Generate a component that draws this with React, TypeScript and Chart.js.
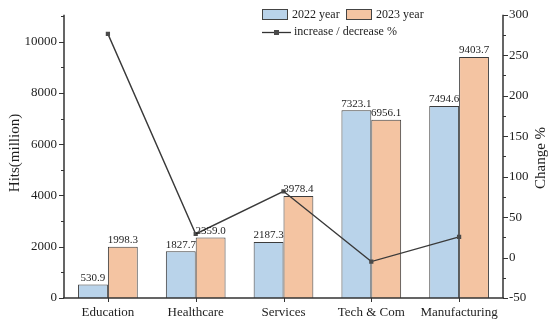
import React, { useEffect, useRef } from "react";
import { Chart, registerables } from "chart.js";

Chart.register(...registerables);

const categories = ["Education", "Healthcare", "Services", "Tech & Com", "Manufacturing"];
const hits2022 = [530.9, 1827.7, 2187.3, 7323.1, 7494.6];
const hits2023 = [1998.3, 2359.0, 3978.4, 6956.1, 9403.7];
const changePct = [276.4, 29.1, 81.9, -5.0, 25.5];
const leftTicks = [0, 2000, 4000, 6000, 8000, 10000];
const rightTicks = [-50, 0, 50, 100, 150, 200, 250, 300];

const FONT = '"Liberation Serif", "Times New Roman", serif';
const BLUE = "#b9d3ea";
const ORANGE = "#f4c4a2";
const EDGE = "#3c3c3c";
const TEXT = "#1e1e1e";

const decorPlugin = {
  id: "decor",
  afterDatasetsDraw(chart: any) {
    const ctx = chart.ctx;
    ctx.save();
    ctx.font = `11px ${FONT}`;
    ctx.fillStyle = TEXT;
    ctx.textAlign = "center";
    ctx.textBaseline = "bottom";
    [0, 1].forEach((di) => {
      const meta = chart.getDatasetMeta(di);
      const data = chart.data.datasets[di].data as number[];
      meta.data.forEach((el: any, i: number) => {
        ctx.fillText(data[i].toFixed(1), el.x, el.y - 1);
      });
    });
    ctx.restore();
  },
  afterDraw(chart: any) {
    const ctx = chart.ctx;
    const ca = chart.chartArea;
    const y = chart.scales.y;
    const y1 = chart.scales.y1;
    const x = chart.scales.x;
    ctx.save();
    ctx.strokeStyle = "#333";
    ctx.lineWidth = 1.5;
    ctx.beginPath();
    ctx.moveTo(ca.left, ca.top);
    ctx.lineTo(ca.left, ca.bottom);
    ctx.moveTo(ca.right, ca.top);
    ctx.lineTo(ca.right, ca.bottom);
    ctx.moveTo(ca.left - 1, ca.bottom);
    ctx.lineTo(ca.right + 1, ca.bottom);
    ctx.stroke();
    ctx.lineWidth = 1;
    ctx.beginPath();
    for (let v = 0; v <= y.max; v += 1000) {
      const py = Math.round(y.getPixelForValue(v)) + 0.5;
      const len = v % 2000 === 0 ? 5 : 3;
      ctx.moveTo(ca.left, py);
      ctx.lineTo(ca.left - len, py);
    }
    for (let v = -50; v <= 300; v += 25) {
      const py = Math.round(y1.getPixelForValue(v)) + 0.5;
      const len = v % 50 === 0 ? 5 : 3;
      ctx.moveTo(ca.right, py);
      ctx.lineTo(ca.right + len, py);
    }
    categories.forEach((_, i) => {
      const px = Math.round(x.getPixelForValue(i)) + 0.5;
      ctx.moveTo(px, ca.bottom);
      ctx.lineTo(px, ca.bottom + 4);
    });
    ctx.stroke();

    ctx.fillStyle = TEXT;
    ctx.font = `15px ${FONT}`;
    ctx.textAlign = "center";
    ctx.textBaseline = "middle";
    ctx.save();
    ctx.translate(15, 153);
    ctx.rotate(-Math.PI / 2);
    ctx.fillText("Hits(million)", 0, 0);
    ctx.restore();
    ctx.save();
    ctx.translate(541, 158);
    ctx.rotate(-Math.PI / 2);
    ctx.fillText("Change %", 0, 0);
    ctx.restore();

    ctx.font = `12px ${FONT}`;
    ctx.textAlign = "left";
    ctx.textBaseline = "middle";
    ctx.lineWidth = 1;
    ctx.strokeStyle = "#444";
    ctx.fillStyle = BLUE;
    ctx.fillRect(262.5, 9.5, 25, 10);
    ctx.strokeRect(262.5, 9.5, 25, 10);
    ctx.fillStyle = ORANGE;
    ctx.fillRect(346.5, 9.5, 25, 10);
    ctx.strokeRect(346.5, 9.5, 25, 10);
    ctx.fillStyle = TEXT;
    ctx.fillText("2022 year", 292, 15);
    ctx.fillText("2023 year", 376, 15);
    ctx.strokeStyle = "#333";
    ctx.lineWidth = 1.3;
    ctx.beginPath();
    ctx.moveTo(262, 32.5);
    ctx.lineTo(291, 32.5);
    ctx.stroke();
    ctx.fillStyle = "#4a4a4a";
    ctx.fillRect(274, 30, 5, 5);
    ctx.fillStyle = TEXT;
    ctx.fillText("increase / decrease %", 294, 32);
    ctx.restore();
  },
};

export default function App() {
  const ref = useRef<HTMLCanvasElement>(null);
  useEffect(() => {
    if (!ref.current) return;
    const chart = new Chart(ref.current, {
      type: "bar",
      data: {
        labels: categories,
        datasets: [
          {
            type: "bar",
            label: "2022 year",
            data: hits2022,
            backgroundColor: BLUE,
            borderColor: EDGE,
            borderWidth: 1,
            yAxisID: "y",
            order: 1,
            categoryPercentage: 0.68,
            barPercentage: 1,
          },
          {
            type: "bar",
            label: "2023 year",
            data: hits2023,
            backgroundColor: ORANGE,
            borderColor: EDGE,
            borderWidth: 1,
            yAxisID: "y",
            order: 1,
            categoryPercentage: 0.68,
            barPercentage: 1,
          },
          {
            type: "line",
            label: "increase / decrease %",
            data: changePct,
            borderColor: "#3a3a3a",
            borderWidth: 1.4,
            backgroundColor: "#4a4a4a",
            pointStyle: "rect",
            pointRadius: 3,
            pointBorderWidth: 0,
            pointBackgroundColor: "#4a4a4a",
            yAxisID: "y1",
            order: 0,
            tension: 0,
          } as any,
        ],
      },
      options: {
        responsive: false,
        animation: false,
        layout: { padding: { top: 6, left: 0, right: 0, bottom: 0 } },
        plugins: { legend: { display: false }, tooltip: { enabled: false } },
        scales: {
          x: {
            type: "category",
            offset: true,
            grid: { display: false, drawTicks: false },
            border: { display: false },
            ticks: { font: { family: FONT, size: 13 }, color: TEXT, padding: 7, maxRotation: 0 },
            afterFit: (s: any) => {
              s.height = 25;
            },
          },
          y: {
            type: "linear",
            position: "left",
            min: 0,
            max: 11050,
            grid: { display: false, drawTicks: false },
            border: { display: false },
            ticks: {
              font: { family: FONT, size: 13 },
              color: TEXT,
              padding: 7,
              callback: (v: any) => String(v),
            },
            afterBuildTicks: (s: any) => {
              s.ticks = leftTicks.map((v) => ({ value: v }));
            },
            afterFit: (s: any) => {
              s.width = 64;
            },
          },
          y1: {
            type: "linear",
            position: "right",
            min: -50,
            max: 300,
            grid: { display: false, drawTicks: false },
            border: { display: false },
            ticks: {
              font: { family: FONT, size: 13 },
              color: TEXT,
              padding: 6,
              callback: (v: any) => String(v),
            },
            afterBuildTicks: (s: any) => {
              s.ticks = rightTicks.map((v) => ({ value: v }));
            },
            afterFit: (s: any) => {
              s.width = 47;
            },
          },
        },
      } as any,
      plugins: [decorPlugin],
    });
    return () => chart.destroy();
  }, []);
  return (
    <div style={{ position: "fixed", left: 0, top: 0, width: 550, height: 323, background: "#fff" }}>
      <canvas ref={ref} width={550} height={323} style={{ width: 550, height: 323, display: "block" }} />
    </div>
  );
}
